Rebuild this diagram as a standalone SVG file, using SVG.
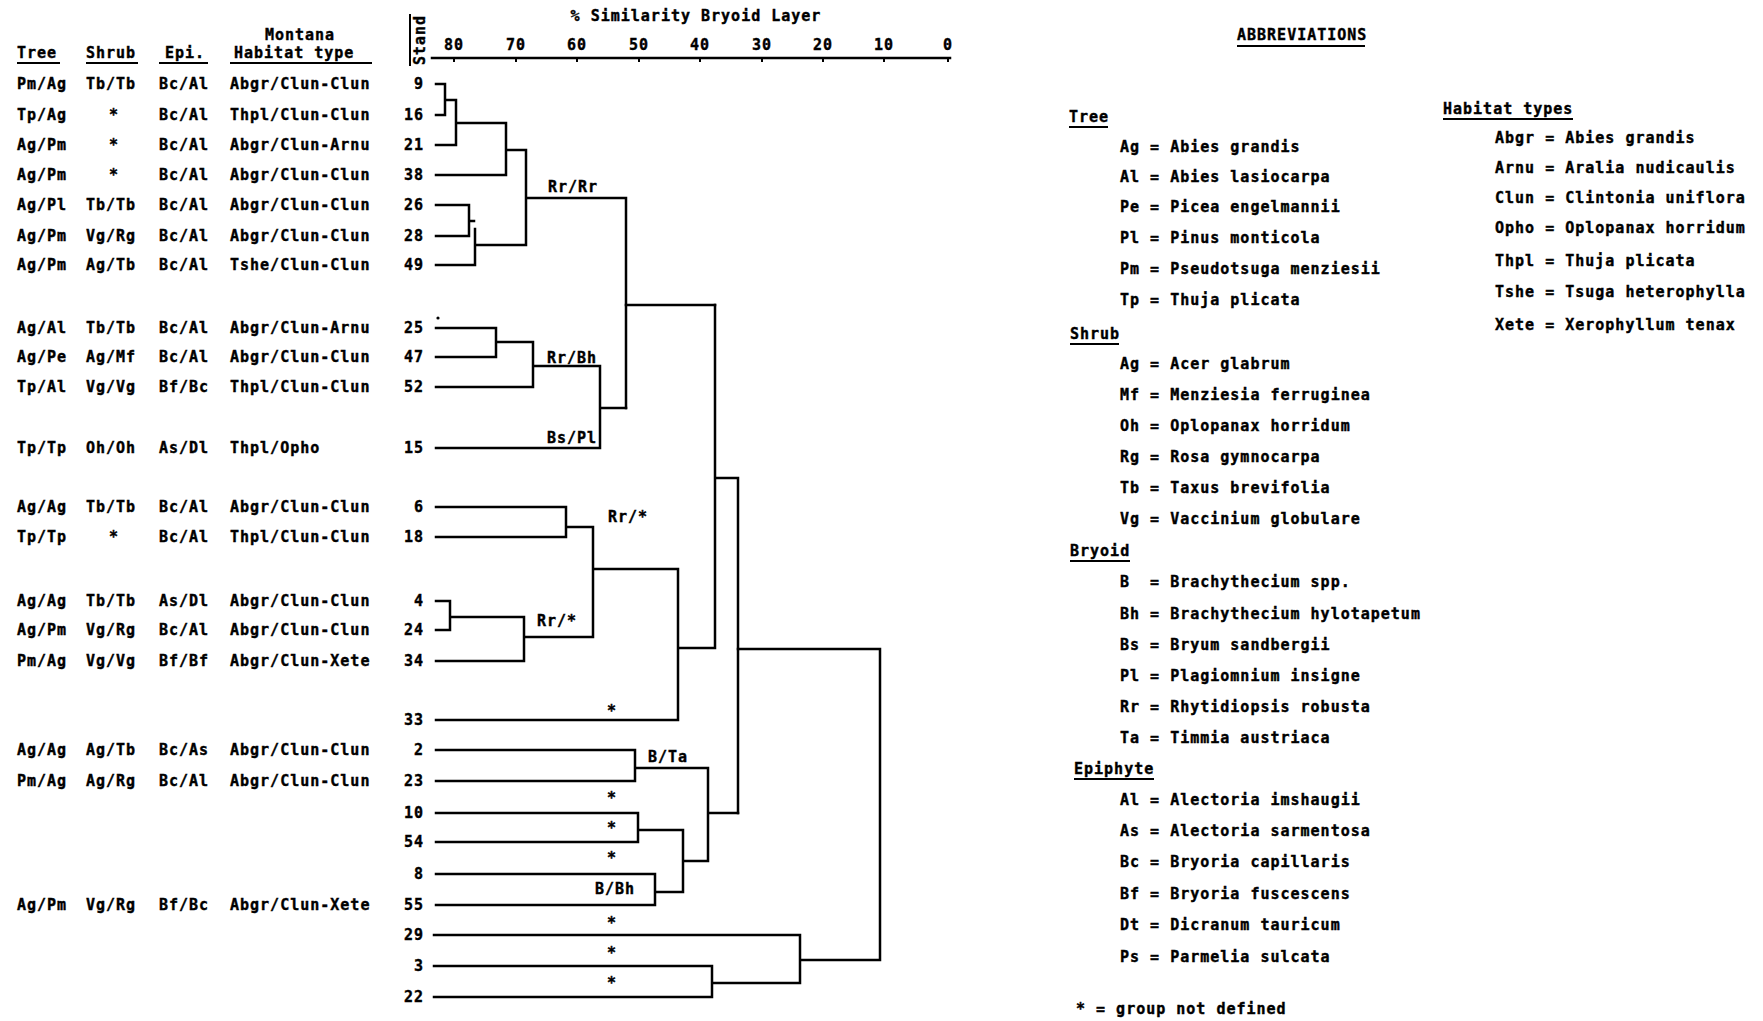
<svg xmlns="http://www.w3.org/2000/svg" width="1763" height="1021" viewBox="0 0 1763 1021">
<style>
.t{font-family:"DejaVu Sans Mono","Liberation Mono",monospace;font-weight:bold;font-size:15px;letter-spacing:1px;fill:#000;stroke:#000;stroke-width:0.4;white-space:pre}
.m{text-anchor:middle}
.e{text-anchor:end}
.l{fill:none;stroke:#000;stroke-width:2.5;stroke-linecap:square}
.u{fill:none;stroke:#000;stroke-width:2}
</style>
<rect width="1763" height="1021" fill="#fff"/>

<g id="headers">
<text class="t" x="17" y="58">Tree</text>
<path class="u" d="M17,63H60"/>
<text class="t" x="86" y="58">Shrub</text>
<path class="u" d="M86,63H138"/>
<text class="t" x="165" y="58">Epi.</text>
<path class="u" d="M159,63H208"/>
<text class="t m" x="300" y="40">Montana</text>
<text class="t" x="234" y="58">Habitat type</text>
<path class="u" d="M230,63H372"/>
<text class="t m" transform="translate(425,40) rotate(-90)">Stand</text>
<path class="u" d="M410,14V66"/>
</g>

<g id="axis">
<text class="t m" x="696" y="21">% Similarity Bryoid Layer</text>
<path class="l" d="M432,58H950"/>
<path class="u" d="M454,58v4M516,58v4M577,58v4M639,58v4M700,58v4M762,58v4M823,58v4M884,58v4M948,58v4"/>
<text class="t m" x="454" y="50">80</text>
<text class="t m" x="516" y="50">70</text>
<text class="t m" x="577" y="50">60</text>
<text class="t m" x="639" y="50">50</text>
<text class="t m" x="700" y="50">40</text>
<text class="t m" x="762" y="50">30</text>
<text class="t m" x="823" y="50">20</text>
<text class="t m" x="884" y="50">10</text>
<text class="t m" x="948" y="50">0</text>
</g>

<g id="stand-9"><text class="t" x="17" y="89">Pm/Ag</text><text class="t" x="86" y="89">Tb/Tb</text><text class="t" x="159" y="89">Bc/Al</text><text class="t" x="230" y="89">Abgr/Clun-Clun</text><text class="t e" x="424" y="89">9</text></g>
<g id="stand-16"><text class="t" x="17" y="120">Tp/Ag</text><text class="t m" x="114" y="120">*</text><text class="t" x="159" y="120">Bc/Al</text><text class="t" x="230" y="120">Thpl/Clun-Clun</text><text class="t e" x="424" y="120">16</text></g>
<g id="stand-21"><text class="t" x="17" y="150">Ag/Pm</text><text class="t m" x="114" y="150">*</text><text class="t" x="159" y="150">Bc/Al</text><text class="t" x="230" y="150">Abgr/Clun-Arnu</text><text class="t e" x="424" y="150">21</text></g>
<g id="stand-38"><text class="t" x="17" y="180">Ag/Pm</text><text class="t m" x="114" y="180">*</text><text class="t" x="159" y="180">Bc/Al</text><text class="t" x="230" y="180">Abgr/Clun-Clun</text><text class="t e" x="424" y="180">38</text></g>
<g id="stand-26"><text class="t" x="17" y="210">Ag/Pl</text><text class="t" x="86" y="210">Tb/Tb</text><text class="t" x="159" y="210">Bc/Al</text><text class="t" x="230" y="210">Abgr/Clun-Clun</text><text class="t e" x="424" y="210">26</text></g>
<g id="stand-28"><text class="t" x="17" y="241">Ag/Pm</text><text class="t" x="86" y="241">Vg/Rg</text><text class="t" x="159" y="241">Bc/Al</text><text class="t" x="230" y="241">Abgr/Clun-Clun</text><text class="t e" x="424" y="241">28</text></g>
<g id="stand-49"><text class="t" x="17" y="270">Ag/Pm</text><text class="t" x="86" y="270">Ag/Tb</text><text class="t" x="159" y="270">Bc/Al</text><text class="t" x="230" y="270">Tshe/Clun-Clun</text><text class="t e" x="424" y="270">49</text></g>
<g id="stand-25"><text class="t" x="17" y="333">Ag/Al</text><text class="t" x="86" y="333">Tb/Tb</text><text class="t" x="159" y="333">Bc/Al</text><text class="t" x="230" y="333">Abgr/Clun-Arnu</text><text class="t e" x="424" y="333">25</text></g>
<g id="stand-47"><text class="t" x="17" y="362">Ag/Pe</text><text class="t" x="86" y="362">Ag/Mf</text><text class="t" x="159" y="362">Bc/Al</text><text class="t" x="230" y="362">Abgr/Clun-Clun</text><text class="t e" x="424" y="362">47</text></g>
<g id="stand-52"><text class="t" x="17" y="392">Tp/Al</text><text class="t" x="86" y="392">Vg/Vg</text><text class="t" x="159" y="392">Bf/Bc</text><text class="t" x="230" y="392">Thpl/Clun-Clun</text><text class="t e" x="424" y="392">52</text></g>
<g id="stand-15"><text class="t" x="17" y="453">Tp/Tp</text><text class="t" x="86" y="453">Oh/Oh</text><text class="t" x="159" y="453">As/Dl</text><text class="t" x="230" y="453">Thpl/Opho</text><text class="t e" x="424" y="453">15</text></g>
<g id="stand-6"><text class="t" x="17" y="512">Ag/Ag</text><text class="t" x="86" y="512">Tb/Tb</text><text class="t" x="159" y="512">Bc/Al</text><text class="t" x="230" y="512">Abgr/Clun-Clun</text><text class="t e" x="424" y="512">6</text></g>
<g id="stand-18"><text class="t" x="17" y="542">Tp/Tp</text><text class="t m" x="114" y="542">*</text><text class="t" x="159" y="542">Bc/Al</text><text class="t" x="230" y="542">Thpl/Clun-Clun</text><text class="t e" x="424" y="542">18</text></g>
<g id="stand-4"><text class="t" x="17" y="606">Ag/Ag</text><text class="t" x="86" y="606">Tb/Tb</text><text class="t" x="159" y="606">As/Dl</text><text class="t" x="230" y="606">Abgr/Clun-Clun</text><text class="t e" x="424" y="606">4</text></g>
<g id="stand-24"><text class="t" x="17" y="635">Ag/Pm</text><text class="t" x="86" y="635">Vg/Rg</text><text class="t" x="159" y="635">Bc/Al</text><text class="t" x="230" y="635">Abgr/Clun-Clun</text><text class="t e" x="424" y="635">24</text></g>
<g id="stand-34"><text class="t" x="17" y="666">Pm/Ag</text><text class="t" x="86" y="666">Vg/Vg</text><text class="t" x="159" y="666">Bf/Bf</text><text class="t" x="230" y="666">Abgr/Clun-Xete</text><text class="t e" x="424" y="666">34</text></g>
<g id="stand-33"><text class="t e" x="424" y="725">33</text></g>
<g id="stand-2"><text class="t" x="17" y="755">Ag/Ag</text><text class="t" x="86" y="755">Ag/Tb</text><text class="t" x="159" y="755">Bc/As</text><text class="t" x="230" y="755">Abgr/Clun-Clun</text><text class="t e" x="424" y="755">2</text></g>
<g id="stand-23"><text class="t" x="17" y="786">Pm/Ag</text><text class="t" x="86" y="786">Ag/Rg</text><text class="t" x="159" y="786">Bc/Al</text><text class="t" x="230" y="786">Abgr/Clun-Clun</text><text class="t e" x="424" y="786">23</text></g>
<g id="stand-10"><text class="t e" x="424" y="818">10</text></g>
<g id="stand-54"><text class="t e" x="424" y="847">54</text></g>
<g id="stand-8"><text class="t e" x="424" y="879">8</text></g>
<g id="stand-55"><text class="t" x="17" y="910">Ag/Pm</text><text class="t" x="86" y="910">Vg/Rg</text><text class="t" x="159" y="910">Bf/Bc</text><text class="t" x="230" y="910">Abgr/Clun-Xete</text><text class="t e" x="424" y="910">55</text></g>
<g id="stand-29"><text class="t e" x="424" y="940">29</text></g>
<g id="stand-3"><text class="t e" x="424" y="971">3</text></g>
<g id="stand-22"><text class="t e" x="424" y="1002">22</text></g>

<g id="connectors">
<path class="l" d="M436,84H445V115H436M445,100H456M456,100V145H436M456,123H506M506,123V175H436M506,150H526M436,205H469V236H436M469,221H474M475,229V265H436M475,245H526M526,150V245M526,198H626M626,198V408"/>
<path class="l" d="M436,328H496V357H436M496,342H533M533,342V387H436M533,366H600M600,366V448H436M600,408H626M626,305H715"/>
<path class="l" d="M436,507H566V537H436M566,527H593V637M436,601H450V630H436M450,617H524V661H436M524,637H593M593,569H678M678,569V720H436M678,648H715M715,305V648M715,478H738M738,478V813"/>
<path class="l" d="M436,750H635V781H436M635,768H708V861M436,813H638V842H436M638,830H683V892M683,861H708M436,874H655V905H436M655,892H683M708,813H738M738,649H880V960M434,935H800V983M800,960H880M434,966H712V997H434M712,983H800"/>
<circle cx="438" cy="318" r="1.6" fill="#000"/>
</g>

<g id="cluster-labels">
<text class="t" x="548" y="192">Rr/Rr</text>
<text class="t" x="547" y="363">Rr/Bh</text>
<text class="t" x="547" y="443">Bs/Pl</text>
<text class="t" x="608" y="522">Rr/*</text>
<text class="t" x="537" y="626">Rr/*</text>
<text class="t m" x="612" y="716">*</text>
<text class="t" x="648" y="762">B/Ta</text>
<text class="t m" x="612" y="803">*</text>
<text class="t m" x="612" y="833">*</text>
<text class="t m" x="612" y="863">*</text>
<text class="t" x="595" y="894">B/Bh</text>
<text class="t m" x="612" y="928">*</text>
<text class="t m" x="612" y="958">*</text>
<text class="t m" x="612" y="988">*</text>
</g>

<g id="abbreviations">
<text class="t" x="1237" y="40">ABBREVIATIONS</text>
<path class="u" d="M1237,46H1365"/>
<text class="t" x="1069" y="122">Tree</text><path class="u" d="M1069,127H1108"/>
<text class="t" x="1120" y="152">Ag = Abies grandis</text>
<text class="t" x="1120" y="182">Al = Abies lasiocarpa</text>
<text class="t" x="1120" y="212">Pe = Picea engelmannii</text>
<text class="t" x="1120" y="243">Pl = Pinus monticola</text>
<text class="t" x="1120" y="274">Pm = Pseudotsuga menziesii</text>
<text class="t" x="1120" y="305">Tp = Thuja plicata</text>
<text class="t" x="1070" y="339">Shrub</text><path class="u" d="M1070,344H1119"/>
<text class="t" x="1120" y="369">Ag = Acer glabrum</text>
<text class="t" x="1120" y="400">Mf = Menziesia ferruginea</text>
<text class="t" x="1120" y="431">Oh = Oplopanax horridum</text>
<text class="t" x="1120" y="462">Rg = Rosa gymnocarpa</text>
<text class="t" x="1120" y="493">Tb = Taxus brevifolia</text>
<text class="t" x="1120" y="524">Vg = Vaccinium globulare</text>
<text class="t" x="1070" y="556">Bryoid</text><path class="u" d="M1070,561H1130"/>
<text class="t" x="1120" y="587">B  = Brachythecium spp.</text>
<text class="t" x="1120" y="619">Bh = Brachythecium hylotapetum</text>
<text class="t" x="1120" y="650">Bs = Bryum sandbergii</text>
<text class="t" x="1120" y="681">Pl = Plagiomnium insigne</text>
<text class="t" x="1120" y="712">Rr = Rhytidiopsis robusta</text>
<text class="t" x="1120" y="743">Ta = Timmia austriaca</text>
<text class="t" x="1074" y="774">Epiphyte</text><path class="u" d="M1074,779H1154"/>
<text class="t" x="1120" y="805">Al = Alectoria imshaugii</text>
<text class="t" x="1120" y="836">As = Alectoria sarmentosa</text>
<text class="t" x="1120" y="867">Bc = Bryoria capillaris</text>
<text class="t" x="1120" y="899">Bf = Bryoria fuscescens</text>
<text class="t" x="1120" y="930">Dt = Dicranum tauricum</text>
<text class="t" x="1120" y="962">Ps = Parmelia sulcata</text>
<text class="t" x="1076" y="1014">* = group not defined</text>
</g>

<g id="habitat-types">
<text class="t" x="1443" y="114">Habitat types</text><path class="u" d="M1443,119H1573"/>
<text class="t" x="1495" y="143">Abgr = Abies grandis</text>
<text class="t" x="1495" y="173">Arnu = Aralia nudicaulis</text>
<text class="t" x="1495" y="203">Clun = Clintonia uniflora</text>
<text class="t" x="1495" y="233">Opho = Oplopanax horridum</text>
<text class="t" x="1495" y="266">Thpl = Thuja plicata</text>
<text class="t" x="1495" y="297">Tshe = Tsuga heterophylla</text>
<text class="t" x="1495" y="330">Xete = Xerophyllum tenax</text>
</g>
</svg>
